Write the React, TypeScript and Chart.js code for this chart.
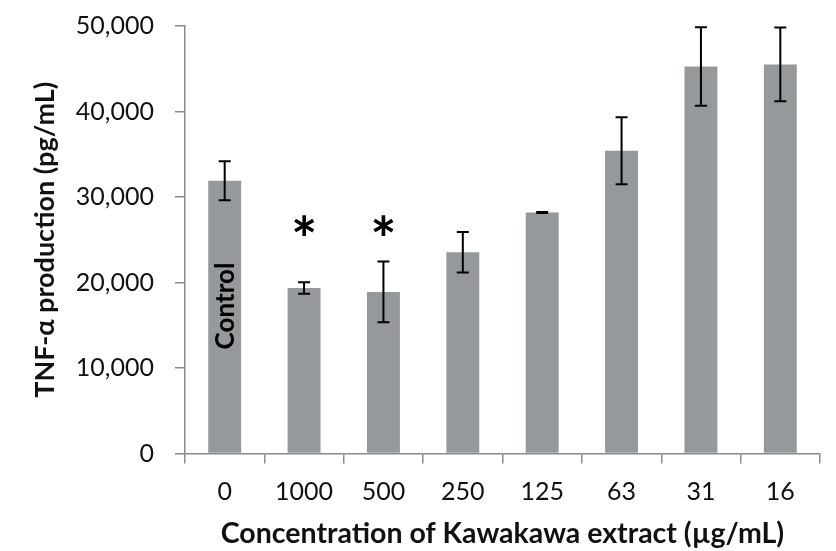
import React, { useEffect, useRef } from "react";
import { Chart, registerables } from "chart.js";

Chart.register(...registerables);

const categories = ["0", "1000", "500", "250", "125", "63", "31", "16"];
const values = [31900, 19350, 18900, 23550, 28200, 35400, 45250, 45500];
const errors = [2280, 670, 3550, 2370, 60, 3920, 4590, 4310];
const yTicks = [0, 10000, 20000, 30000, 40000, 50000];
const significantIndices = [1, 2];
const asteriskValue = 26700;
const controlIndex = 0;
const controlLabel = "Control";
const controlLabelValue = 17250;
const xTitle = "Concentration of Kawakawa extract (µg/mL)";
const yTitle = "TNF-α production (pg/mL)";

const FONT = "Lato";
const AXIS_COLOR = "#8a8a8a";
const BAR_COLOR = "#96999c";

const overlayPlugin = {
  id: "overlay",
  afterDatasetsDraw(chart: any) {
    const ctx = chart.ctx;
    const meta = chart.getDatasetMeta(0);
    const yScale = chart.scales.y;
    ctx.save();
    ctx.strokeStyle = "#000";
    ctx.lineWidth = 2;
    values.forEach((v, i) => {
      const x = meta.data[i].x;
      const yt = yScale.getPixelForValue(v + errors[i]);
      const yb = yScale.getPixelForValue(v - errors[i]);
      ctx.beginPath();
      ctx.moveTo(x, yt);
      ctx.lineTo(x, yb);
      ctx.moveTo(x - 6, yt);
      ctx.lineTo(x + 6, yt);
      ctx.moveTo(x - 6, yb);
      ctx.lineTo(x + 6, yb);
      ctx.stroke();
    });
    ctx.fillStyle = "#000";
    ctx.font = `bold 62px ${FONT}`;
    ctx.textAlign = "center";
    ctx.textBaseline = "alphabetic";
    const m = ctx.measureText("*");
    const asc = m.actualBoundingBoxAscent;
    const desc = m.actualBoundingBoxDescent;
    significantIndices.forEach((i) => {
      const x = meta.data[i].x;
      const yc = yScale.getPixelForValue(asteriskValue);
      ctx.fillText("*", x, yc + (asc - desc) / 2);
    });
    const cx = meta.data[controlIndex].x;
    const cy = yScale.getPixelForValue(controlLabelValue);
    ctx.translate(cx, cy);
    ctx.rotate(-Math.PI / 2);
    ctx.font = `bold 26px ${FONT}`;
    ctx.textAlign = "center";
    ctx.textBaseline = "middle";
    ctx.fillStyle = "#000";
    ctx.fillText(controlLabel, 0, 1);
    ctx.restore();
  },
};

export default function App() {
  const canvasRef = useRef<HTMLCanvasElement | null>(null);

  useEffect(() => {
    if (!canvasRef.current) return;
    const chart = new Chart(canvasRef.current, {
      type: "bar",
      data: {
        labels: categories,
        datasets: [
          {
            data: values,
            backgroundColor: BAR_COLOR,
            borderWidth: 0,
            categoryPercentage: 1,
            barPercentage: 0.415,
          },
        ],
      },
      options: {
        animation: false,
        responsive: true,
        maintainAspectRatio: false,
        layout: { padding: { top: 26, right: 16, left: 0, bottom: 0 } },
        plugins: {
          legend: { display: false },
          tooltip: { enabled: false },
        },
        scales: {
          x: {
            afterFit: (s: any) => {
              s.height = 97.5;
              s.paddingLeft = 0;
              s.paddingRight = 0;
            },
            grid: {
              display: true,
              drawOnChartArea: false,
              drawTicks: true,
              tickLength: 10,
              color: AXIS_COLOR,
              lineWidth: 1.5,
              offset: true,
            },
            border: { display: true, color: AXIS_COLOR, width: 1.5 },
            ticks: {
              color: "#111",
              font: { family: FONT, size: 25 },
              padding: 13,
              maxRotation: 0,
            },
            title: {
              display: true,
              text: xTitle,
              color: "#111",
              font: { family: FONT, size: 28.5, weight: "bold" },
              padding: { top: 0, bottom: 0 },
            },
          },
          y: {
            min: 0,
            max: 50000,
            afterFit: (s: any) => {
              s.width = 185;
              s.paddingTop = 0;
              s.paddingBottom = 0;
            },
            afterBuildTicks: (s: any) => {
              s.ticks = yTicks.map((v) => ({ value: v }));
            },
            grid: {
              display: true,
              drawOnChartArea: false,
              drawTicks: true,
              tickLength: 10,
              color: AXIS_COLOR,
              lineWidth: 1.5,
            },
            border: { display: true, color: AXIS_COLOR, width: 1.5 },
            ticks: {
              color: "#111",
              font: { family: FONT, size: 25 },
              padding: 21,
              callback: (v: any) => Number(v).toLocaleString("en-US"),
            },
            title: {
              display: true,
              text: yTitle,
              color: "#111",
              font: { family: FONT, size: 27, weight: "bold" },
              padding: { top: 29, bottom: 0 },
            },
          },
        },
      },
      plugins: [overlayPlugin],
    });
    return () => chart.destroy();
  }, []);

  return (
    <div
      style={{
        position: "fixed",
        left: 0,
        top: 0,
        width: 836,
        height: 551,
        background: "#fff",
      }}
    >
      <canvas ref={canvasRef} />
    </div>
  );
}
